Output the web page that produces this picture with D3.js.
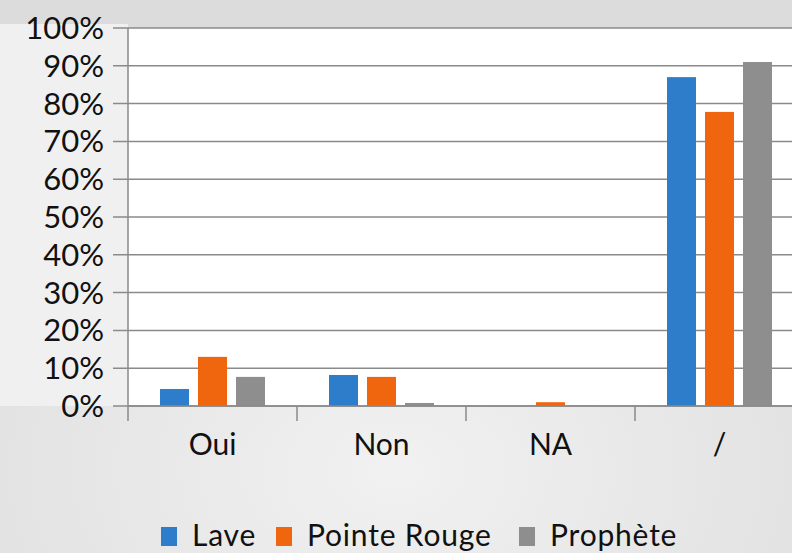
<!doctype html>
<html>
<head>
    <meta charset="UTF-8">
    <title>chart</title>
    <script src="https://d3js.org/d3.v7.min.js"></script>
    <style>
        body { margin: 0; }
        svg { display: block; font-family: Lato, "Open Sans", sans-serif; }
    </style>
</head>
<body>
<svg width="792" height="553"></svg>
<script>
    var categories = ["Oui", "Non", "NA", "/"];
    var seriesNames = ["Lave", "Pointe Rouge", "Prophète"];
    var lave = [4.5, 8.2, 0, 87];
    var pointeRouge = [13, 7.7, 1, 77.8];
    var prophete = [7.7, 0.8, 0, 91];
    var tickValues = [0, 10, 20, 30, 40, 50, 60, 70, 80, 90, 100];
    var colors = ["#2d7dcb", "#f0660f", "#8e8e8e"];

    var allSeries = [lave, pointeRouge, prophete];
    var W = 792, H = 553;
    var plotLeft = 128, plotTop = 28, plotBottom = 406;

    var svg = d3.select("svg");

    // background
    var defs = svg.append("defs");
    var grad = defs.append("radialGradient").attr("id", "bg")
        .attr("cx", "50%").attr("cy", "85%").attr("r", "75%");
    grad.append("stop").attr("offset", "0%").attr("stop-color", "#f1f1f1");
    grad.append("stop").attr("offset", "100%").attr("stop-color", "#dcdcdc");
    svg.append("rect").attr("width", W).attr("height", H).attr("fill", "url(#bg)");
    svg.append("rect").attr("x", 0).attr("y", plotTop - 4).attr("width", plotLeft).attr("height", plotBottom - plotTop + 4)
        .attr("fill", "#f0f0f0");
    svg.append("rect").attr("x", plotLeft).attr("y", plotTop).attr("width", W - plotLeft).attr("height", plotBottom - plotTop)
        .attr("fill", "#ffffff");

    var y = d3.scaleLinear().domain([0, 100]).range([plotBottom, plotTop]);
    var x0 = d3.scaleBand().domain(categories).range([plotLeft, plotLeft + 169 * 4]);
    var x1 = d3.scaleBand().domain(d3.range(3)).range([0, x0.bandwidth()])
        .paddingInner(0.237).paddingOuter(0.842);

    // gridlines + y labels
    svg.append("g").selectAll("line").data(tickValues).enter().append("line")
        .attr("x1", 113).attr("x2", W)
        .attr("y1", function(d){ return y(d); })
        .attr("y2", function(d){ return y(d); })
        .attr("stroke", "#8a8a8a").attr("stroke-width", 1.5);

    svg.append("g").selectAll("text").data(tickValues).enter().append("text")
        .attr("x", 104)
        .attr("y", function(d){ return y(d) + 11; })
        .attr("text-anchor", "end")
        .attr("font-size", 31)
        .attr("fill", "#111")
        .text(function(d){ return d + "%"; });

    // bars
    allSeries.forEach(function(vals, s){
        svg.append("g").selectAll("rect").data(vals).enter().append("rect")
            .attr("x", function(d, i){ return x0(categories[i]) + x1(s); })
            .attr("y", function(d){ return y(d); })
            .attr("width", x1.bandwidth())
            .attr("height", function(d){ return plotBottom - y(d); })
            .attr("fill", colors[s]);
    });

    // axes
    svg.append("line").attr("x1", plotLeft).attr("x2", plotLeft).attr("y1", plotTop).attr("y2", 421)
        .attr("stroke", "#8a8a8a").attr("stroke-width", 1.5);
    svg.append("line").attr("x1", plotLeft).attr("x2", W).attr("y1", plotBottom).attr("y2", plotBottom)
        .attr("stroke", "#8a8a8a").attr("stroke-width", 1.5);
    svg.append("g").selectAll("line").data(categories).enter().append("line")
        .attr("x1", function(d){ return x0(d) + x0.bandwidth(); })
        .attr("x2", function(d){ return x0(d) + x0.bandwidth(); })
        .attr("y1", plotBottom).attr("y2", 421)
        .attr("stroke", "#8a8a8a").attr("stroke-width", 1.5);

    svg.append("g").selectAll("text").data(categories).enter().append("text")
        .attr("x", function(d){ return x0(d) + x0.bandwidth() / 2; })
        .attr("y", 455)
        .attr("text-anchor", "middle")
        .attr("font-size", 30)
        .attr("fill", "#111")
        .text(function(d){ return d; });

    // legend
    var legX = [161, 276, 519];
    var leg = svg.append("g").selectAll("g").data(seriesNames).enter().append("g")
        .attr("transform", function(d, i){ return "translate(" + legX[i] + ",0)"; });
    leg.append("rect").attr("x", 0).attr("y", 527).attr("width", 16).attr("height", 19)
        .attr("fill", function(d, i){ return colors[i]; });
    leg.append("text").attr("x", 31).attr("y", 546)
        .attr("font-size", 30).attr("letter-spacing", 0.8).attr("fill", "#111")
        .text(function(d){ return d; });
</script>
</body>
</html>
